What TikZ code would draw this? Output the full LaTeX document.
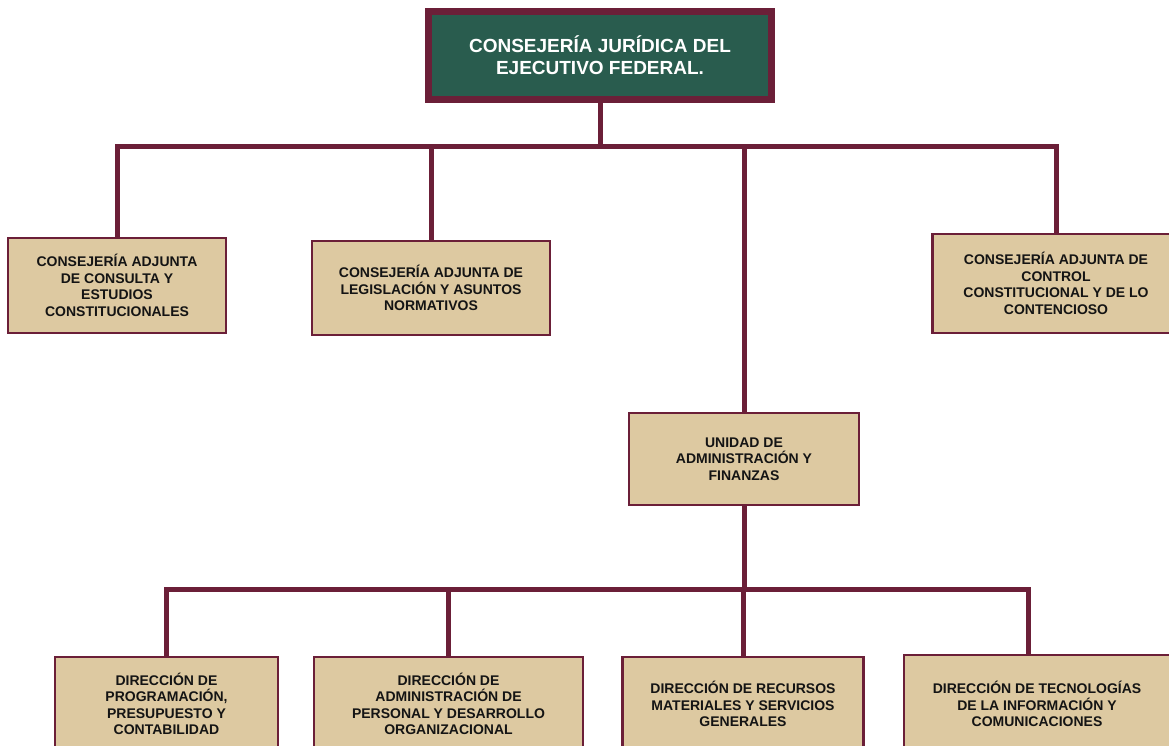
\documentclass[tikz,border=0pt]{standalone}
\usepackage{fontspec}
\setmainfont{Liberation Sans}
\definecolor{maroon}{HTML}{6B1F38}
\definecolor{topgreen}{HTML}{295C4E}
\definecolor{beige}{HTML}{DDC9A1}
\definecolor{ink}{HTML}{141414}
\begin{document}
\begin{tikzpicture}[x=1pt,y=-1pt,
  topbox/.style={draw=maroon,line width=7pt,fill=topgreen,text=white,
    font=\fontsize{19}{22}\selectfont\bfseries,align=center,
    minimum width=343pt,minimum height=88pt,inner sep=0pt},
  unitbox/.style={draw=maroon,line width=2.5pt,fill=beige,text=ink,
    font=\fontsize{14}{16.5}\selectfont\bfseries,align=center,inner sep=0pt},
  conn/.style={draw=maroon,line width=5pt,line join=miter}]
\useasboundingbox (0,0) rectangle (1169,746);
\fill[white] (0,0) rectangle (1169,746);
\clip (0,0) rectangle (1169,746);

% boxes
\node[topbox] (top) at (600,55.5) {CONSEJERÍA JURÍDICA DEL\\EJECUTIVO FEDERAL.};

\node[unitbox,minimum width=218pt,minimum height=95pt] (c1) at (117,285.5)
  {CONSEJERÍA ADJUNTA\\DE CONSULTA Y\\ESTUDIOS\\CONSTITUCIONALES};
\node[unitbox,minimum width=238pt,minimum height=94pt] (c2) at (431,288)
  {CONSEJERÍA ADJUNTA DE\\LEGISLACIÓN Y ASUNTOS\\NORMATIVOS};
\node[unitbox,minimum width=247pt,minimum height=99pt] (c4) at (1056,283.5)
  {CONSEJERÍA ADJUNTA DE\\CONTROL\\CONSTITUCIONAL Y DE LO\\CONTENCIOSO};
\node[unitbox,minimum width=230pt,minimum height=92pt] (un) at (744,459)
  {UNIDAD DE\\ADMINISTRACIÓN Y\\FINANZAS};

\node[unitbox,minimum width=223pt,minimum height=94pt] (b1) at (166.5,704)
  {DIRECCIÓN DE\\PROGRAMACIÓN,\\PRESUPUESTO Y\\CONTABILIDAD};
\node[unitbox,minimum width=269pt,minimum height=94pt] (b2) at (448.5,704)
  {DIRECCIÓN DE\\ADMINISTRACIÓN DE\\PERSONAL Y DESARROLLO\\ORGANIZACIONAL};
\node[unitbox,minimum width=241pt,minimum height=94pt] (b3) at (743,704)
  {DIRECCIÓN DE RECURSOS\\MATERIALES Y SERVICIOS\\GENERALES};
\node[unitbox,minimum width=266pt,minimum height=98pt] (b4) at (1037,704)
  {DIRECCIÓN DE TECNOLOGÍAS\\DE LA INFORMACIÓN Y\\COMUNICACIONES};

% junction points
\coordinate (j1) at (top.south |- 0,147);
\coordinate (j2) at (un.south |- 0,589);
\coordinate (b4x) at (1028,0);

% connectors
\draw[conn] (top.south) -- (j1);
\draw[conn] (c1.north) |- (j1) -| (c4.north);
\draw[conn] (c2.north) -- (c2.north |- j1);
\draw[conn] (un.north) -- (un.north |- j1);
\draw[conn] (un.south) -- (j2);
\draw[conn] (b1.north) |- (j2) -| (b4.north -| b4x);
\draw[conn] (b2.north) -- (b2.north |- j2);
\draw[conn] (b3.north) -- (b3.north |- j2);
\end{tikzpicture}
\end{document}
